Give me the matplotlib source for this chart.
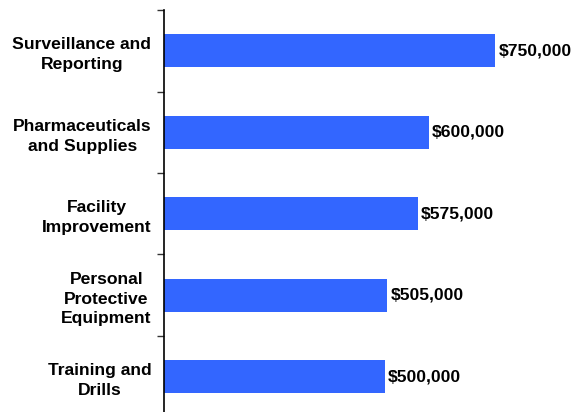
import matplotlib.pyplot as plt
import numpy as np

categories = ['Surveillance and\nReporting', 'Pharmaceuticals\nand Supplies',
              'Facility\nImprovement', 'Personal\nProtective\nEquipment',
              'Training and\nDrills']
amounts = [750000, 600000, 575000, 505000, 500000]

plt.rcParams['font.family'] = ['Liberation Sans', 'DejaVu Sans']

fig = plt.figure(figsize=(5.79, 4.12), dpi=100)
ax = fig.add_axes([0.2832, -0.0133, 0.6097, 0.989])

y = np.arange(len(categories))
ax.barh(y, amounts, height=0.4, color='#3366FF')

for yi, v in zip(y, amounts):
    ax.text(v + 8000, yi, '${:,.0f}'.format(v), va='center', ha='left',
            fontsize=12.6, fontweight='bold')

ax.set_xlim(0, 800000)
ax.set_ylim(len(categories) - 0.5, -0.5)

ax.set_yticks(y)
ax.set_yticklabels(categories, fontsize=12.6, fontweight='bold',
                   linespacing=1.4, multialignment='center')
ax.set_yticks(np.arange(-0.5, len(categories)), minor=True)
ax.tick_params(axis='y', which='major', length=0, pad=9)
ax.tick_params(axis='y', which='minor', length=5, width=1, color='#333333')

ax.set_xticks([])
for s in ['top', 'right', 'bottom']:
    ax.spines[s].set_visible(False)
ax.spines['left'].set_linewidth(1.2)

fig.savefig('out.png', dpi=100, facecolor='white')
